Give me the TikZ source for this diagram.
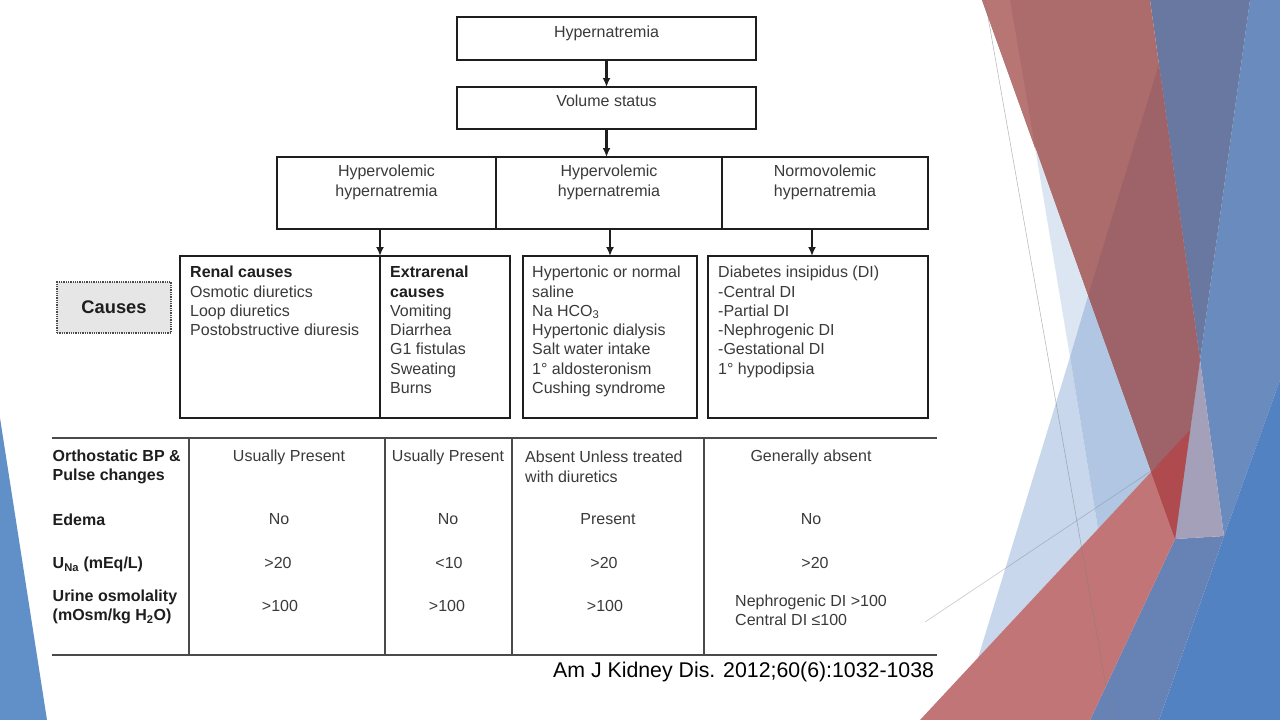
\documentclass[tikz,border=0pt]{standalone}
\usepackage{fontspec}
\setmainfont{Liberation Sans}
\usepackage{tikz}
\usetikzlibrary{arrows.meta, positioning, calc}
\definecolor{mInk}{HTML}{1E1E1E}
\definecolor{mText}{HTML}{3A3A3A}
\definecolor{mRule}{HTML}{4A4A4A}
\definecolor{mCauseFill}{HTML}{E6E6E6}
\definecolor{fStrip}{HTML}{B77574}
\definecolor{fTopRed}{HTML}{AC6C6C}
\definecolor{fDarkRed}{HTML}{9E6369}
\definecolor{fBlueGray}{HTML}{6978A1}
\definecolor{fRightBlue}{HTML}{6A8BBE}
\definecolor{fStrongBlue}{HTML}{5282C2}
\definecolor{fGrayBlue}{HTML}{6783B6}
\definecolor{fLavender}{HTML}{A5A0B9}
\definecolor{fLightA}{HTML}{DCE6F2}
\definecolor{fLightB}{HTML}{C8D7EB}
\definecolor{fLightC}{HTML}{B1C6E3}
\definecolor{fBottomRed}{HTML}{C27577}
\definecolor{fBrightRed}{HTML}{AF4A4E}
\definecolor{fLeftBlue}{HTML}{6190C8}
\colorlet{accent}{mInk}

\begin{document}
\begin{tikzpicture}[x=1pt, y=-1pt,
    every node/.style={font=\fontsize{16}{19.3}\selectfont, text=mText, inner sep=0pt},
    flowbox/.style={draw=mInk, line width=1.6pt, anchor=north west, outer sep=0pt},
    flowarrow/.style={draw=accent, line width=2.2pt, -{Latex[length=9pt,width=8pt]}},
    causebox/.style={draw=mRule, densely dotted, line width=1.3pt, fill=mCauseFill,
                     minimum width=114pt, minimum height=51pt,
                     font=\fontsize{18.3}{22}\selectfont\bfseries, text=mInk},
    rowhead/.style={font=\fontsize{16}{19}\selectfont\bfseries, text=mInk},
    tblrule/.style={draw=mRule, line width=1.6pt},
    tblcol/.style={draw=mRule, line width=1.2pt}]
  \useasboundingbox (0,0) rectangle (1280,720);
  \fill[white] (0,0) rectangle (1280,720);

  % facet backdrop
  \fill[fLeftBlue] (0,418) -- (47,720) -- (0,720) -- cycle;
  \fill[fRightBlue] (1250,0) -- (1280,0) -- (1280,380) -- (1224,536) -- (1200,360) -- cycle;
  \fill[fStrongBlue] (1280,380) -- (1280,720) -- (1159,720) -- (1224,536) -- cycle;
  \fill[fGrayBlue] (1175,539) -- (1224,536) -- (1159,720) -- (1090,720) -- cycle;
  \fill[fLavender] (1200,360) -- (1224,536) -- (1175,539) -- cycle;
  \fill[fBlueGray] (1150,0) -- (1250,0) -- (1200,360) -- cycle;
  \fill[fTopRed] (982,0) -- (1150,0) -- (1200,360) -- (1175,539) -- cycle;
  \fill[fStrip] (982,0) -- (1010,0) -- (1035,147) -- cycle;
  \fill[fDarkRed] (1159,64) -- (1200,360) -- (1175,539) -- (1088,296) -- cycle;
  \fill[fLightA] (1035,147) -- (1088,296) -- (1070,357) -- cycle;
  \fill[fLightB] (1070,357) -- (1098,529) -- (978,658) -- cycle;
  \fill[fLightC] (1070,357) -- (1088,296) -- (1151,472) -- (1098,529) -- cycle;
  \fill[fBottomRed] (920,720) -- (1151,472) -- (1175,539) -- (1090,720) -- cycle;
  \fill[fBrightRed] (1151,472) -- (1190,430) -- (1175,539) -- cycle;
  \draw[gray, opacity=0.6, line width=0.5pt] (985,0) -- (1112,720);
  \draw[gray, opacity=0.5, line width=0.5pt] (925,622) -- (1160,465);

  % flow chart
  \node[flowbox, minimum width=299pt, minimum height=43pt] (hyper) at (457,17) {};
  \node[anchor=north] (hyperTxt) at ([yshift=-9pt]hyper.north) {Hypernatremia};
  \node[flowbox, minimum width=299pt, minimum height=42pt] (volume) at (457,87) {};
  \node[anchor=north] (volumeTxt) at ([yshift=-8pt]volume.north) {Volume status};

  \node[flowbox, minimum width=219pt, minimum height=72pt] (hvA) at (277,157) {};
  \node[flowbox, minimum width=226pt, minimum height=72pt] (hvB) at (hvA.north east) {};
  \node[flowbox, minimum width=206pt, minimum height=72pt] (nv) at (hvB.north east) {};
  \node[anchor=north, align=center] (hvATxt) at ([yshift=-8pt]hvA.north) {Hypervolemic\\hypernatremia};
  \node[anchor=north, align=center] (hvBTxt) at ([yshift=-8pt]hvB.north) {Hypervolemic\\hypernatremia};
  \node[anchor=north, align=center] (nvTxt) at ([yshift=-8pt]nv.north) {Normovolemic\\hypernatremia};

  \node[flowbox, minimum width=200pt, minimum height=162pt] (renal) at (180,256) {};
  \node[flowbox, minimum width=130pt, minimum height=162pt] (extra) at (renal.north east) {};
  \node[flowbox, minimum width=174pt, minimum height=162pt] (salt) at (523,256) {};
  \node[flowbox, minimum width=220pt, minimum height=162pt] (di) at (708,256) {};
  \node[anchor=north west, align=left] (renalTxt) at ([xshift=10pt, yshift=-10pt]renal.north west)
      {\textcolor{mInk}{\textbf{Renal causes}}\\Osmotic diuretics\\Loop diuretics\\Postobstructive diuresis};
  \node[anchor=north west, align=left] (extraTxt) at ([xshift=10pt, yshift=-10pt]extra.north west)
      {\textcolor{mInk}{\textbf{Extrarenal}}\\\textcolor{mInk}{\textbf{causes}}\\Vomiting\\Diarrhea\\G1 fistulas\\Sweating\\Burns};
  \node[anchor=north west, align=left] (saltTxt) at ([xshift=9pt, yshift=-10pt]salt.north west)
      {Hypertonic or normal\\saline\\Na HCO\textsubscript{3}\\Hypertonic dialysis\\Salt water intake\\1° aldosteronism\\Cushing syndrome};
  \node[anchor=north west, align=left] (diTxt) at ([xshift=10pt, yshift=-10pt]di.north west)
      {Diabetes insipidus (DI)\\-Central DI\\-Partial DI\\-Nephrogenic DI\\-Gestational DI\\1° hypodipsia};
  \node[causebox] (causes) at (114,307.5) {Causes};

  \coordinate (diTop) at ([xshift=-6pt]di.north);
  \draw[flowarrow] (hyper.south) -- (volume.north);
  \draw[flowarrow] (volume.south) -- (volume.south |- hvB.north);
  \draw[flowarrow] (renal.north east |- hvA.south) -- (renal.north east);
  \draw[flowarrow] (salt.north |- hvB.south) -- (salt.north);
  \draw[flowarrow] (diTop |- nv.south) -- (diTop);

  % table
  \draw[tblrule] (52,438) -- (937,438);
  \draw[tblrule] (52,655) -- (937,655);
  \foreach \cx in {189,385,512,704}
    \draw[tblcol] (\cx,438) -- (\cx,655);

  \node[rowhead, anchor=north west, align=left] (hdOrtho) at (52.5,449.5) {Orthostatic BP \&\\Pulse changes};
  \node[rowhead, anchor=base west] (hdEdema) at (52.5,525) {Edema};
  \node[rowhead, anchor=base west] (hdUna) at (52.5,568.5) {U\textsubscript{Na} (mEq/L)};
  \node[rowhead, anchor=north west, align=left] (hdOsm) at (52.5,590) {Urine osmolality\\(mOsm/kg H\textsubscript{2}O)};

  \foreach \cx/\cy/\val [count=\i] in {289/461.5/Usually Present, 448/461.5/Usually Present,
      811/461.5/Generally absent, 279/524.6/No, 448/524.6/No, 608/524.6/Present, 811/524.6/No,
      278/568.6/>20, 449/568.6/<10, 604/568.6/>20, 815/568.6/>20,
      280/611.6/>100, 447/611.6/>100, 605/611.6/>100}
    \node[anchor=base] (val\i) at (\cx,\cy) {\val};
  \node[anchor=north west, align=left] (valAbsent) at (525,451) {Absent Unless treated\\with diuretics};
  \node[anchor=north west, align=left] (valDi) at (735,594.4) {Nephrogenic DI >100\\Central DI ≤100};

  \node[anchor=base west, font=\fontsize{21.3}{25}\selectfont, text=black] (cite) at (553,677.8)
      {Am J Kidney Dis. 2012;60(6):1032-1038};
\end{tikzpicture}
\end{document}
